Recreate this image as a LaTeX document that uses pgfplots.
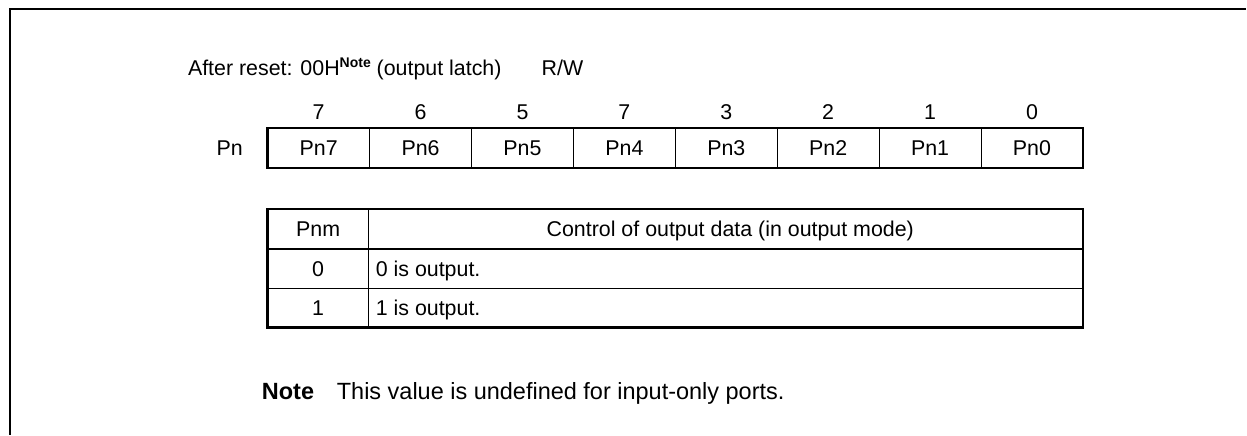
\documentclass[border=0pt]{standalone}
\usepackage{pgfplots}
\pgfplotsset{compat=1.18}
\usepackage{fontspec}
\setmainfont{Liberation Sans}
\begin{document}
\begin{tikzpicture}[t/.style={font=\fontsize{21.4}{25}\selectfont, inner sep=0pt},
  n/.style={font=\fontsize{23.5}{27}\selectfont, inner sep=0pt}]
\begin{axis}[width=1247pt,height=435pt,scale only axis,
  xmin=0,xmax=1247,ymin=0,ymax=435,y dir=reverse,
  axis lines=none,clip=false]
\path (0,0) rectangle (1247,435);
% frame
\addplot[black, line width=2.5pt, mark=none] coordinates {(1247,9) (10,9) (10,435)};
% header text
\node[t,anchor=base west] at (188,76) {After reset: 00H\raisebox{8pt}{\fontsize{14}{16}\selectfont\bfseries Note} (output latch)};
\node[t,anchor=base west] at (542,76) {R/W};
% register box
\draw[line width=1pt] (370,128) -- (370,168) (472,128) -- (472,168) (574,128) -- (574,168)
  (676,128) -- (676,168) (778,128) -- (778,168) (880,128) -- (880,168) (982,128) -- (982,168);
\draw[line width=2.5pt] (268,128) rectangle (1084,168);
\node[t,anchor=base] at (319,120) {7};
\node[t,anchor=base] at (421,120) {6};
\node[t,anchor=base] at (523,120) {5};
\node[t,anchor=base] at (625,120) {7};
\node[t,anchor=base] at (727,120) {3};
\node[t,anchor=base] at (829,120) {2};
\node[t,anchor=base] at (931,120) {1};
\node[t,anchor=base] at (1033,120) {0};
\node[t,anchor=base] at (319,156) {Pn7};
\node[t,anchor=base] at (421,156) {Pn6};
\node[t,anchor=base] at (523,156) {Pn5};
\node[t,anchor=base] at (625,156) {Pn4};
\node[t,anchor=base] at (727,156) {Pn3};
\node[t,anchor=base] at (829,156) {Pn2};
\node[t,anchor=base] at (931,156) {Pn1};
\node[t,anchor=base] at (1033,156) {Pn0};
\node[t,anchor=base] at (230,156) {Pn};
% table
\draw[line width=1pt] (369,209) -- (369,328) (268,289) -- (1084,289);
\draw[line width=2.5pt] (268,249) -- (1084,249);
\draw[line width=2.5pt] (268,209) rectangle (1084,328);
\node[t,anchor=base] at (318.5,236.5) {Pnm};
\node[t,anchor=base] at (731,236.5) {Control of output data (in output mode)};
\node[t,anchor=base] at (318.5,276.5) {0};
\node[t,anchor=base west] at (376,276.5) {0 is output.};
\node[t,anchor=base] at (318.5,316) {1};
\node[t,anchor=base west] at (376,316) {1 is output.};
% note
\node[n,anchor=base west] at (262,400) {\bfseries Note};
\node[n,anchor=base west] at (337,400) {This value is undefined for input-only ports.};
\end{axis}
\end{tikzpicture}
\end{document}
